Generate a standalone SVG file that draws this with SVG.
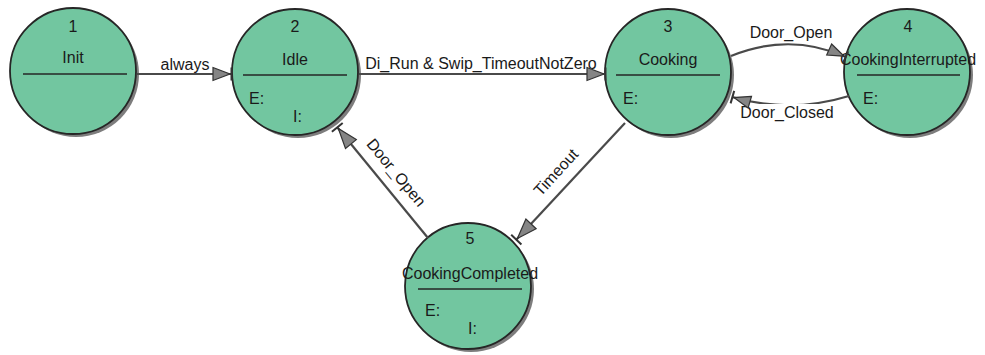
<svg xmlns="http://www.w3.org/2000/svg" width="985" height="355" viewBox="0 0 985 355">
<style>
text{font-family:"Liberation Sans",Arial,sans-serif;font-size:16px;fill:#1a1a1a}
.c{text-anchor:middle}
.body{fill:#72c6a0;stroke:#262626;stroke-width:1.8}
.shadow{fill:#7d7d7d}
.sep{stroke:#262626;stroke-width:1.6}
.edge{fill:none;stroke:#4a4a4a;stroke-width:2.2}
.head{fill:#858585;stroke:#333;stroke-width:1.2}
.bar{stroke:#333;stroke-width:2;fill:none}
</style>
<g id="node1">
<circle class="shadow" cx="76" cy="74" r="63"/>
<circle class="body" cx="73" cy="71" r="63"/>
<text x="73" y="32" class="c">1</text>
<text x="73" y="63" class="c">Init</text>
<line class="sep" x1="23" y1="74" x2="127" y2="74"/>
</g>
<g id="node2">
<circle class="shadow" cx="298" cy="75" r="63"/>
<circle class="body" cx="295" cy="72" r="63"/>
<text x="295" y="32" class="c">2</text>
<text x="295" y="65" class="c">Idle</text>
<line class="sep" x1="243" y1="75" x2="347" y2="75"/>
<text x="249" y="104">E:</text>
<text x="293" y="122">I:</text>
</g>
<g id="node3">
<circle class="shadow" cx="671" cy="75" r="63"/>
<circle class="body" cx="668" cy="72" r="63"/>
<text x="668" y="32" class="c">3</text>
<text x="668" y="65" class="c">Cooking</text>
<line class="sep" x1="616" y1="75" x2="720" y2="75"/>
<text x="623" y="104">E:</text>
</g>
<g id="node4">
<circle class="shadow" cx="910" cy="75" r="63"/>
<circle class="body" cx="907" cy="72" r="63"/>
<text x="908" y="32" class="c">4</text>
<text x="908" y="65" class="c">CookingInterrupted</text>
<line class="sep" x1="857" y1="75" x2="960" y2="75"/>
<text x="863" y="104">E:</text>
</g>
<g id="node5">
<circle class="shadow" cx="471" cy="289" r="63"/>
<circle class="body" cx="468" cy="286" r="63"/>
<text x="470" y="244" class="c">5</text>
<text x="470" y="279" class="c">CookingCompleted</text>
<line class="sep" x1="418" y1="289" x2="522" y2="289"/>
<text x="425" y="316">E:</text>
<text x="468" y="334">I:</text>
</g>
<g id="connectors">
<path class="edge" d="M137,74 L232,74"/>
<path class="edge" d="M359,74 L606,74"/>
<path class="edge" d="M731,56 Q790,32 846,57"/>
<path class="edge" d="M849,96 Q790,114 732,97"/>
<path class="edge" d="M625,123 L516,240"/>
<path class="edge" d="M428,238 L337,127"/>
<rect x="740" y="104" width="96" height="17" fill="#fff"/>
<text x="185" y="70" class="c">always</text>
<text x="481" y="69" class="c">Di_Run &amp; Swip_TimeoutNotZero</text>
<text x="791" y="38" class="c">Door_Open</text>
<text x="787" y="118" class="c">Door_Closed</text>
<text class="c" transform="translate(560,176) rotate(-47.6)">Timeout</text>
<text class="c" transform="translate(392,176) rotate(50.4)">Door_Open</text>
<path class="head" d="M213,67.5 L230,74 L213,80.5 Z"/>
<path class="bar" d="M231.5,67.5 L231.5,80.5"/>
<path class="head" d="M587,67.5 L604,74 L587,80.5 Z"/>
<path class="bar" d="M605.5,67.5 L605.5,80.5"/>
<path class="head" d="M831.6,44.0 L844.2,56.2 L826.7,55.0 Z"/>
<path class="bar" d="M848.2,51.3 L842.9,63.2"/>
<path class="head" d="M751.5,96.4 L733.9,97.6 L748.1,108.0 Z"/>
<path class="bar" d="M734.2,90.9 L730.6,103.4"/>
<path class="head" d="M536.1,228.7 L517.4,238.5 L525.9,219.1 Z"/>
<path class="bar" d="M521.4,244.4 L511.2,234.8"/>
<path class="head" d="M356.3,139.6 L338.3,128.5 L345.5,148.4 Z"/>
<path class="bar" d="M342.7,123.0 L331.9,131.8"/>
</g>
</svg>
